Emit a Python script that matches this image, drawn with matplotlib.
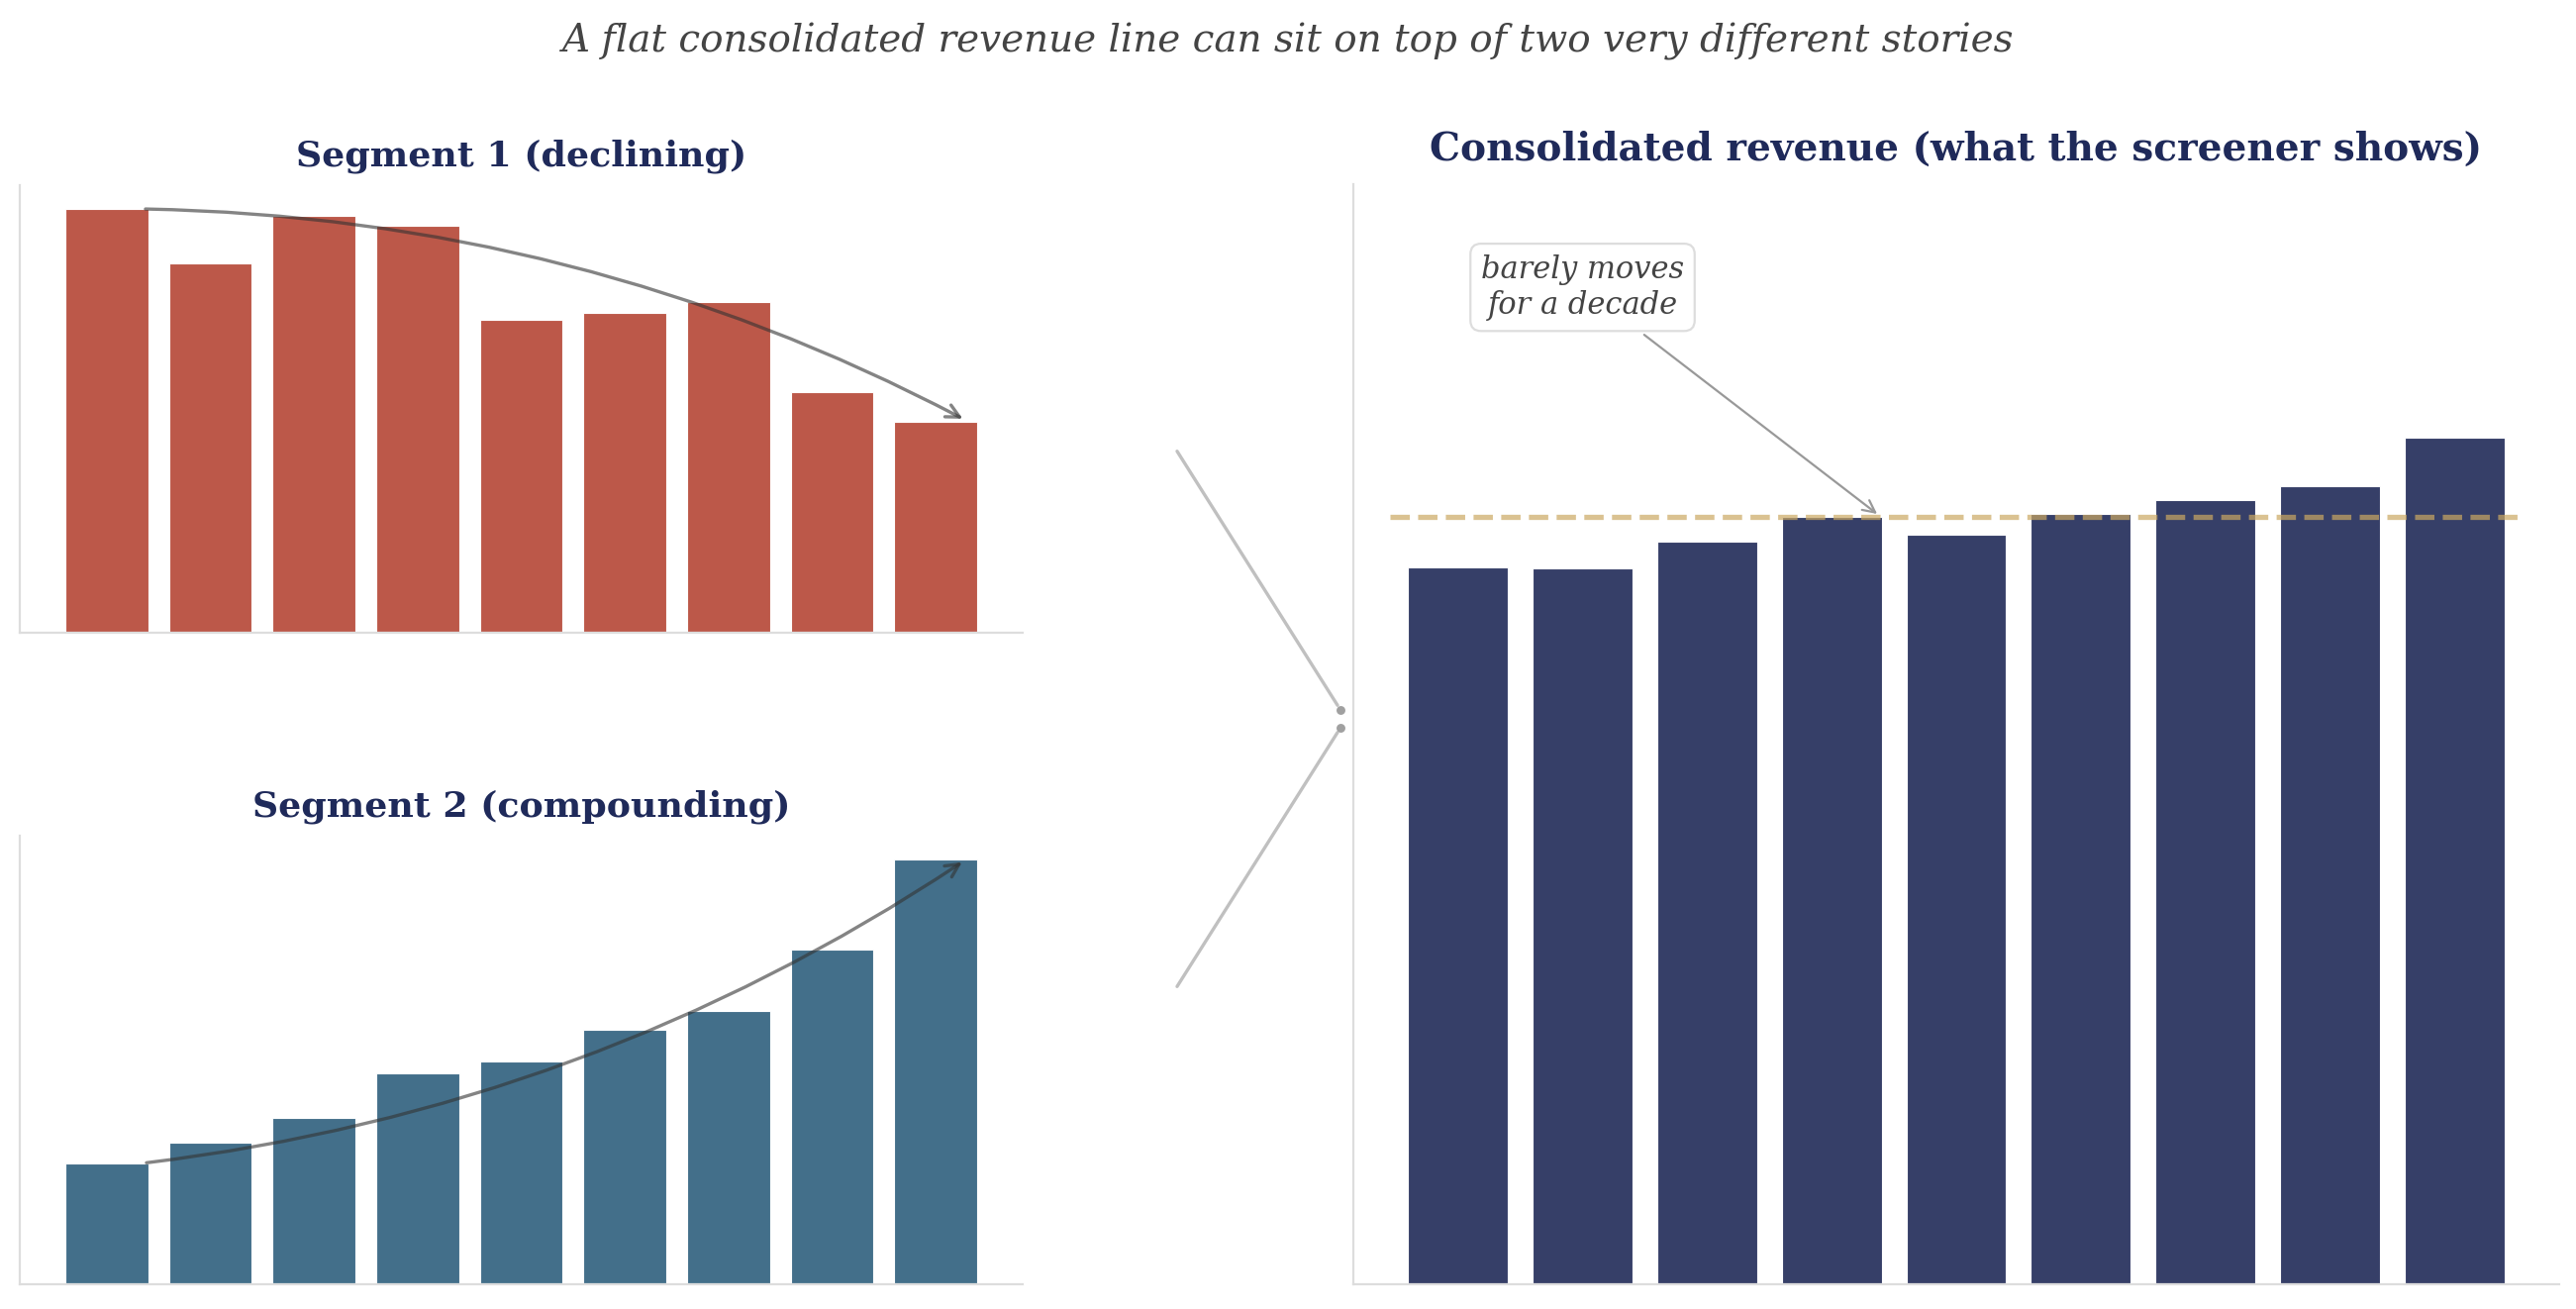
import numpy as np
import matplotlib
matplotlib.use("Agg")
import matplotlib.pyplot as plt
from matplotlib.patches import FancyArrowPatch

# ---------------- data ----------------
years = list(range(9))
segment1 = [80.0, 69.7, 78.6, 76.8, 59.0, 60.3, 62.5, 45.4, 39.9]
segment2 = [17.0, 19.9, 23.5, 29.7, 31.4, 35.9, 38.5, 47.2, 60.0]
consolidated = [97.5, 97.4, 101.0, 104.3, 101.9, 104.8, 106.7, 108.6, 115.1]

suptitle = "A flat consolidated revenue line can sit on top of two very different stories"
title_seg1 = "Segment 1 (declining)"
title_seg2 = "Segment 2 (compounding)"
title_cons = "Consolidated revenue (what the screener shows)"
note_text = "barely moves\nfor a decade"

# ---------------- style ----------------
plt.rcParams['font.family'] = ['DejaVu Serif']
C_SEG1 = "#bc5849"
C_SEG2 = "#436f8a"
C_CONS = "#363f68"
C_TITLE = "#1f2a5a"
C_SPINE = "#dddddd"

W, H = 2602, 1322
fig = plt.figure(figsize=(W / 200, H / 200), dpi=200)
fig.patch.set_facecolor("white")

def fx(px):
    return px / W

def fy(py):
    return 1 - py / H

ax1 = fig.add_axes([fx(20), fy(639), fx(1033) - fx(20), fy(187) - fy(639)])
ax2 = fig.add_axes([fx(20), fy(1296.5), fx(1033) - fx(20), fy(844) - fy(1296.5)])
ax3 = fig.add_axes([fx(1367), fy(1296.5), fx(2585) - fx(1367), fy(186) - fy(1296.5)])

def style(ax):
    for s in ["top", "right"]:
        ax.spines[s].set_visible(False)
    for s in ["left", "bottom"]:
        ax.spines[s].set_color(C_SPINE)
        ax.spines[s].set_linewidth(0.8)
    ax.set_xticks([])
    ax.set_yticks([])

# Segment 1
ax1.bar(years, segment1, width=0.8, color=C_SEG1, edgecolor="white", linewidth=0.4)
ax1.set_ylim(0, max(segment1) * 1.056)
style(ax1)
ax1.text(0.5, 1.064, title_seg1, transform=ax1.transAxes, ha="center", va="center",
         fontsize=13.1, fontweight="bold", color=C_TITLE)
ax1.annotate("", xy=(years[-1] + 0.31, segment1[-1]), xytext=(years[0] + 0.32, segment1[0]),
             arrowprops=dict(arrowstyle="->", color="#333333", alpha=0.6, lw=1.2,
                             mutation_scale=12, connectionstyle="arc3,rad=-0.12"))

# Segment 2
ax2.bar(years, segment2, width=0.8, color=C_SEG2, edgecolor="white", linewidth=0.4)
ax2.set_ylim(0, max(segment2) * 1.055)
style(ax2)
ax2.text(0.5, 1.064, title_seg2, transform=ax2.transAxes, ha="center", va="center",
         fontsize=13.1, fontweight="bold", color=C_TITLE)
ax2.annotate("", xy=(years[-1] + 0.3, segment2[-1]), xytext=(years[0] + 0.33, segment2[0]),
             arrowprops=dict(arrowstyle="->", color="#333333", alpha=0.6, lw=1.2,
                             mutation_scale=12, connectionstyle="arc3,rad=0.12"))

# Consolidated
ax3.bar(years, consolidated, width=0.8, color=C_CONS, edgecolor="white", linewidth=0.4)
ax3.set_ylim(0, max(consolidated) * 1.3)
style(ax3)
med = float(np.median(consolidated))
ax3.axhline(med, xmin=0.03, xmax=0.966, color="#cba862", alpha=0.7, lw=1.9, ls="--", zorder=3)
ax3.text(0.5, 1.032, title_cons, transform=ax3.transAxes, ha="center", va="center",
         fontsize=14.05, fontweight="bold", color=C_TITLE)
ax3.annotate(note_text, xy=(3.4, med), xytext=(1.0, med * 1.3),
             ha="center", va="center", fontsize=11, style="italic", color="#444444",
             bbox=dict(boxstyle="round,pad=0.35", fc="white", ec="#dddddd", lw=0.8),
             arrowprops=dict(arrowstyle="->", color="#999999", lw=0.8))

# Connectors between panels
for (x0, y0), (x1, y1) in [((1186, 451), (1354, 717)), ((1186, 1001), (1354, 735))]:
    arr = FancyArrowPatch((fx(x0), fy(y0)), (fx(x1), fy(y1)), transform=fig.transFigure,
                          arrowstyle="-", color="#c0c0c0", lw=1.2, capstyle="round")
    fig.patches.append(arr)
    fig.add_artist(plt.Line2D([fx(x1)], [fy(y1)], marker="o", markersize=2.2,
                              color="#a0a0a0", transform=fig.transFigure))

fig.text(0.5, fy(42), suptitle, ha="center", va="center", fontsize=14,
         style="italic", color="#444444")

fig.savefig("out.png", dpi=200, facecolor="white")
